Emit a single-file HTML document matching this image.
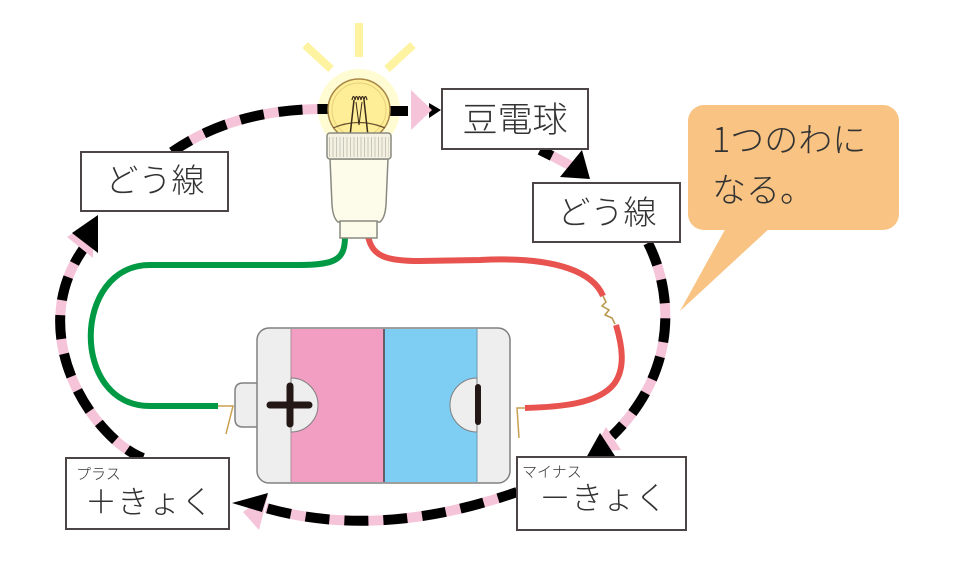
<!DOCTYPE html>
<html><head><meta charset="utf-8"><style>
html,body{margin:0;padding:0;background:#fff;}
svg{display:block;}
text{font-family:"Liberation Sans","Noto Sans CJK JP",sans-serif;fill:#333;font-weight:300;}
</style></head><body>
<svg width="960" height="580" viewBox="0 0 960 580" xmlns="http://www.w3.org/2000/svg">
<rect width="960" height="580" fill="#fff"/>

<!-- callout -->
<polygon points="727,226 772,226 680,311" fill="#f8c383"/>
<rect x="688" y="105" width="211" height="125" rx="16" fill="#f8c383"/>
<text x="712" y="152" font-size="34"><tspan style="font-family:'Noto Sans CJK JP',sans-serif">1</tspan>つのわに</text>
<text x="712" y="202" font-size="34">なる。</text>

<!-- wires -->
<path d="M345 236 C345 258 338 265 300 265 L150 265 C72 265 70 406 150 406 L218 406" fill="none" stroke="#009944" stroke-width="6"/>
<path d="M368 236 C372 256 385 261 420 261 L480 260 C560 256 594 274 603 296" fill="none" stroke="#e8534f" stroke-width="6"/>
<path d="M616 325 C622 345 626 368 614 384 C598 404 560 407 525 408" fill="none" stroke="#e8534f" stroke-width="6"/>
<polyline points="603,296 606,302 602,306 609,310 605,315 612,318 615,324" fill="none" stroke="#b8954a" stroke-width="1.5"/>
<polyline points="218,406 233,406 226,434" fill="none" stroke="#c8a050" stroke-width="1.5"/>
<polyline points="525,408 517,408 519,438" fill="none" stroke="#c8a050" stroke-width="1.5"/>

<!-- battery -->
<path d="M258 383 L243 383 Q235 383 235 391 L235 419 Q235 427 243 427 L258 427 Z" fill="#eeeeee" stroke="#808080" stroke-width="1.5"/>
<rect x="257" y="328" width="253" height="155" rx="12" fill="#eeeeee"/>
<rect x="291" y="329" width="93" height="153" fill="#f19ec2"/>
<rect x="384" y="329" width="93" height="153" fill="#7ecef4"/>
<line x1="291" y1="329" x2="291" y2="482" stroke="#b08a9a" stroke-width="1"/>
<line x1="477" y1="329" x2="477" y2="482" stroke="#6a9ab0" stroke-width="1"/>
<line x1="384" y1="329" x2="384" y2="482" stroke="#4a4040" stroke-width="1.5"/>
<path d="M291 378 A27 27 0 0 1 291 432 Z" fill="#eeeeee" stroke="#808080" stroke-width="1"/>
<path d="M477 378 A27 27 0 0 0 477 432 Z" fill="#eeeeee" stroke="#808080" stroke-width="1"/>
<rect x="257" y="328" width="253" height="155" rx="12" fill="none" stroke="#808080" stroke-width="1.5"/>
<path d="M270 405 L309 405 M290 386 L290 424" stroke="#231815" stroke-width="7" stroke-linecap="round"/>
<path d="M478 387 L478 422" stroke="#231815" stroke-width="6" stroke-linecap="round"/>

<!-- bulb glow & rays -->
<circle cx="359" cy="110" r="41" fill="#fffbd2"/>
<g stroke="#fdf3a0" stroke-width="8">
<line x1="359" y1="23" x2="359" y2="57"/>
<line x1="305" y1="45" x2="331" y2="69"/>
<line x1="413" y1="45" x2="387" y2="69"/>
</g>

<!-- dashed loop -->
<g fill="none" stroke-width="10">
<path d="M172 152 Q235 108 328 109" stroke="#f5c4d9"/>
<path d="M172 152 Q235 108 328 109" stroke="#000" stroke-dasharray="24 15" stroke-dashoffset="2"/>
<path d="M390 111 L408 111" stroke="#000"/>
<path d="M545 152 Q560 160 573 167" stroke="#f5c4d9"/>
<path d="M540 150 L552 156" stroke="#000"/>
<path d="M648 243 C672 290 680 370 612 436" stroke="#f5c4d9"/>
<path d="M648 243 C672 290 680 370 612 436" stroke="#000" stroke-dasharray="24 15"/>
<path d="M517 492 Q380 540 266 508" stroke="#f5c4d9"/>
<path d="M517 492 Q380 540 266 508" stroke="#000" stroke-dasharray="24 15" stroke-dashoffset="4"/>
<path d="M143 458 C95 440 22 335 84 248" stroke="#f5c4d9"/>
<path d="M143 458 C95 440 22 335 84 248" stroke="#000" stroke-dasharray="24 15" stroke-dashoffset="6"/>
</g>
<!-- arrowheads -->
<polygon points="429,103 429,118 441,110" fill="#000"/>
<polygon points="411,90 411,130 432,110" fill="#f5c4d9"/>
<polygon points="582,150 560,177 590,179" fill="#000"/>
<polygon points="592,452 606,427 621,450" fill="#f5c4d9"/>
<polygon points="586,458 600,433 615,456" fill="#000"/>
<polygon points="243,512 268,495 259,530" fill="#f5c4d9"/>
<polygon points="232,503 268,493 262,512" fill="#000"/>
<polygon points="93,220 67,237 93,258" fill="#f5c4d9"/>
<polygon points="98,215 72,233 98,253" fill="#000"/>

<!-- bulb glass -->
<circle cx="359" cy="110" r="31" fill="#ffee98" stroke="#a88848" stroke-width="1.5"/>
<circle cx="359" cy="110" r="27" fill="none" stroke="#e8d07a" stroke-width="1"/>
<path d="M333 128 Q359 117 385 128" fill="none" stroke="#6a5030" stroke-width="1.2"/>
<path d="M350 136 Q352 118 354 100 M368 136 Q366 118 364 100" fill="none" stroke="#3a2a1a" stroke-width="1.5"/>
<path d="M352 100 q1.5 -7 3 0 q1.5 -7 3 0 q1.5 -7 3 0 q1.5 -7 3 0 q1.5 -7 3 0" fill="none" stroke="#3a2a1a" stroke-width="1.2"/>
<path d="M356 102 L359 125 L362 102" fill="none" stroke="#3a2a1a" stroke-width="1"/>
<!-- socket -->
<path d="M330 159 L388 159 L386 205 Q385 218 380 222 L338 222 Q333 218 332 205 Z" fill="#fdfbea" stroke="#8a8a80" stroke-width="1.5"/>
<rect x="340" y="221" width="37" height="17" fill="#fdfbea" stroke="#8a8a80" stroke-width="1.5"/>
<rect x="327" y="133" width="64" height="26" rx="3" fill="#f4f1e2"/>
<line x1="329" y1="147" x2="389" y2="147" stroke="#c8c6b8" stroke-width="20" stroke-dasharray="1 2.5"/>
<rect x="327" y="133" width="64" height="26" rx="3" fill="none" stroke="#8a8a80" stroke-width="1.5"/>

<!-- label boxes -->
<g fill="#fff" stroke="#4d4545" stroke-width="2">
<rect x="81" y="152" width="147" height="59"/>
<rect x="442" y="89" width="146" height="60"/>
<rect x="533" y="183" width="147" height="59"/>
<rect x="66" y="458" width="163" height="71"/>
<rect x="517" y="457" width="169" height="73"/>
</g>
<text x="155" y="192" font-size="33" text-anchor="middle">どう線</text>
<text x="515" y="132" font-size="35" text-anchor="middle">豆電球</text>
<text x="607" y="224" font-size="33" text-anchor="middle">どう線</text>
<text x="76" y="479" font-size="15">プラス</text>
<text x="149" y="513" font-size="32" text-anchor="middle">＋きょく</text>
<text x="522" y="477" font-size="15">マイナス</text>
<text x="603" y="509" font-size="32" text-anchor="middle">－きょく</text>
</svg>
</body></html>
